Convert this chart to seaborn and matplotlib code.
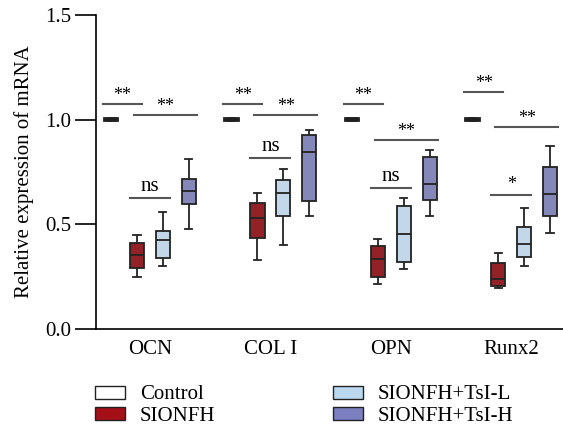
import matplotlib
matplotlib.use("Agg")
import matplotlib.pyplot as plt
import matplotlib.patches as mpatches
import seaborn as sns
import pandas as pd

genes = ["OCN", "COL I", "OPN", "Runx2"]
groups = ["Control", "SIONFH", "SIONFH+TsI-L", "SIONFH+TsI-H"]
colors = ["#ffffff", "#a50f18", "#bcd8ef", "#7b7fc0"]

# five-number summaries per gene: [min, q1, median, q3, max]
control = [[0.994, 0.994, 1.0, 1.006, 1.006]] * 4
sionfh = [[0.25, 0.29, 0.355, 0.41, 0.45],
          [0.33, 0.437, 0.528, 0.601, 0.649],
          [0.214, 0.247, 0.336, 0.397, 0.432],
          [0.196, 0.207, 0.239, 0.316, 0.364]]
tsi_l = [[0.30, 0.34, 0.425, 0.47, 0.56],
         [0.40, 0.54, 0.649, 0.71, 0.764],
         [0.289, 0.32, 0.453, 0.589, 0.625],
         [0.301, 0.346, 0.405, 0.487, 0.58]]
tsi_h = [[0.48, 0.598, 0.657, 0.716, 0.81],
         [0.542, 0.611, 0.847, 0.927, 0.951],
         [0.542, 0.617, 0.692, 0.821, 0.853],
         [0.461, 0.542, 0.643, 0.774, 0.872]]

# significance brackets: heights per gene
ctrl_vs_model_y = [1.073, 1.073, 1.073, 1.134]
ctrl_vs_high_y = [1.02, 1.02, 0.904, 0.963]
model_vs_low_y = [0.624, 0.818, 0.673, 0.638]
model_vs_low_txt = ["ns", "ns", "ns", "*"]

rows = []
for g, data in zip(groups, [control, sionfh, tsi_l, tsi_h]):
    for gene, vals in zip(genes, data):
        for v in vals:
            rows.append({"gene": gene, "group": g, "value": v})
df = pd.DataFrame(rows)

plt.rcParams["font.family"] = ["Liberation Serif", "DejaVu Serif"]
fig = plt.figure(figsize=(5.63, 4.36), dpi=100)
ax = fig.add_axes([0.1705, 0.2454, 0.8295, 0.7202])

sns.boxplot(data=df, x="gene", y="value", hue="group", order=genes,
            hue_order=groups, palette=colors, width=0.86, gap=0.45,
            whis=(0, 100), linewidth=1.3, linecolor="#222222",
            ax=ax, legend=False)

# make control bars solid black
for p in ax.patches[:4]:
    p.set_facecolor("#111111")

lc = "#555555"
def bracket(x0, x1, y, txt, dy):
    ax.plot([x0, x1], [y, y], color=lc, lw=1.5)
    ax.text((x0 + x1) / 2, y + dy, txt, ha="center", va="bottom",
            fontsize=15 if txt == "ns" else 13)

for i in range(4):
    bracket(i - 0.39, i - 0.066, ctrl_vs_model_y[i], "**", 0.0)
    bracket(i - 0.133, i + 0.39, ctrl_vs_high_y[i], "**", 0.0)
    bracket(i - 0.166, i + 0.166, model_vs_low_y[i], model_vs_low_txt[i], 0.01)

ax.set_xlim(-0.448, 3.43)
ax.set_ylim(0, 1.5)
ax.set_yticks([0.0, 0.5, 1.0, 1.5])
ax.set_yticklabels(["0.0", "0.5", "1.0", "1.5"])
ax.tick_params(axis="y", length=15, width=1.2, labelsize=15, pad=3)
ax.tick_params(axis="x", length=0, labelsize=15, pad=8)
ax.set_xlabel("")
ax.set_ylabel("Relative expression of mRNA", fontsize=15, labelpad=8)
ax.spines["top"].set_visible(False)
ax.spines["right"].set_visible(False)
ax.spines["left"].set_linewidth(1.2)
ax.spines["bottom"].set_linewidth(1.2)

handles = [mpatches.Patch(facecolor=c, edgecolor="#222222", lw=1.0, label=g)
           for g, c in zip(groups, colors)]
fig.legend(handles=handles, ncol=2, loc="lower left",
           bbox_to_anchor=(0.135, -0.02), frameon=False,
           prop={"family": "Liberation Serif", "size": 15},
           handlelength=1.45, handleheight=0.6, columnspacing=5.65,
           labelspacing=0.12, handletextpad=0.71)

fig.savefig("out.png", dpi=100)
